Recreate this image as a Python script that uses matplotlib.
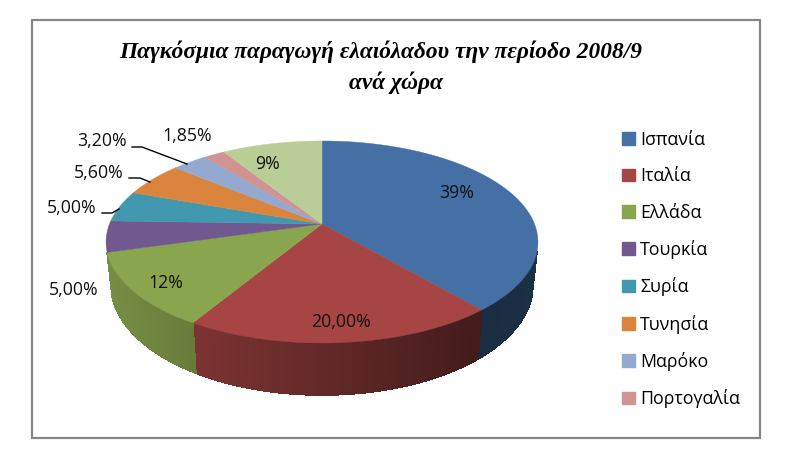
import matplotlib
matplotlib.use("Agg")
import matplotlib.pyplot as plt
import numpy as np
from matplotlib.collections import PolyCollection
from matplotlib.patches import Patch, Polygon, Rectangle

countries = ["Ισπανία", "Ιταλία", "Ελλάδα", "Τουρκία", "Συρία", "Τυνησία", "Μαρόκο", "Πορτογαλία", "Άλλες"]
shares = [39, 20, 12, 5, 5, 5.6, 3.2, 1.85, 9]
share_labels = ["39%", "20,00%", "12%", "5,00%", "5,00%", "5,60%", "3,20%", "1,85%", "9%"]
colors = ["#4470A6", "#A64543", "#89A54E", "#71588F", "#4198AF", "#DB843D", "#93A9CF", "#D19392", "#B9CD96"]

# pixel layout of the picture
W, H = 786, 461
CX, CY = 322, 224
RX, RY = 212.5, 97.8
PERSP = 0.178
BOTTOM_CY, BOTTOM_RY = 265, 106.8
BOTTOM_K = 0.977
FRONT_Y = 0.27  # side wall only shows below this point of the rim
label_xy = [(457, 193), (341, 322), (166, 283), (74, 290), (72, 208), (99, 173), (102, 141), (187, 136), (268, 164)]
leaders = [
    [(102, 213), (112, 213), (119, 209)],
    [(129, 178), (140, 178), (150, 182)],
    [(132, 147), (142, 147), (187, 164)],
]
FONT = "Open Sans"
TEXT_SIZE = 12.8


def rim(theta):
    # theta clockwise from the top, perspective squeeze for the far side
    x = np.sin(theta)
    y = -np.cos(theta)
    s = 1 / (1 - PERSP * y)
    return CX + RX * x * s, CY + RY * y * s


def bottom_rim(theta):
    x = np.sin(theta)
    y = -np.cos(theta)
    s = 1 / (1 - PERSP * y)
    return CX + RX * BOTTOM_K * x * s, BOTTOM_CY + BOTTOM_RY * y * s


def side_shade(x):
    return np.interp(x, [107, 193, 481, 538], [0.86, 0.75, 0.40, 0.42])


fig = plt.figure(figsize=(W / 100, H / 100), dpi=100)
ax = fig.add_axes([0, 0, 1, 1])
ax.set_xlim(0, W)
ax.set_ylim(H, 0)
ax.axis("off")

ax.add_patch(Rectangle((32, 20), 728, 418, fill=False, edgecolor="#868686", linewidth=1.6))

edges = np.cumsum([0] + shares) / sum(shares) * 2 * np.pi

# side wall first, then the top face over it
quads, quad_colors = [], []
for i, color in enumerate(colors):
    base = np.array(matplotlib.colors.to_rgb(color))
    thetas = np.arange(edges[i], edges[i + 1] + 0.008, 0.008)
    thetas[-1] = edges[i + 1]
    for a, b in zip(thetas[:-1], thetas[1:]):
        if -np.cos(a) < FRONT_Y or -np.cos(b) < FRONT_Y:
            continue
        xa, ya = rim(a)
        xb, yb = rim(b)
        xc, yc = bottom_rim(b)
        xd, yd = bottom_rim(a)
        quads.append([(xa, ya), (xb, yb), (xc, yc), (xd, yd)])
        quad_colors.append(base * side_shade((xa + xb) / 2))
ax.add_collection(PolyCollection(
    quads,
    facecolors=quad_colors,
    edgecolors=quad_colors,
    linewidths=0.6,
    antialiased=False,
))

for i, color in enumerate(colors):
    thetas = np.linspace(edges[i], edges[i + 1], 120)
    xs, ys = rim(thetas)
    pts = np.vstack([[CX, CY], np.column_stack([xs, ys])])
    ax.add_patch(Polygon(pts, closed=True, facecolor=color, edgecolor=color, linewidth=0.3))

for text, (x, y) in zip(share_labels, label_xy):
    ax.text(x, y, text, ha="center", va="center", fontsize=TEXT_SIZE, family=FONT, color="#111111")

for line in leaders:
    pts = np.array(line)
    ax.plot(pts[:, 0], pts[:, 1], color="black", linewidth=1.0)

ax.text(381, 51.5, "Παγκόσμια παραγωγή ελαιόλαδου την περίοδο 2008/9", ha="center", va="center",
        fontsize=16.8, family="Liberation Serif", weight="bold", style="italic")
ax.text(396, 83, "ανά χώρα", ha="center", va="center",
        fontsize=16.8, family="Liberation Serif", weight="bold", style="italic")

# the last slice has no legend entry in the original
handles = [Patch(facecolor=c, edgecolor=c) for c in colors[:8]]
leg = ax.legend(
    handles, countries[:8],
    loc="upper left", bbox_to_anchor=(622 / W, 1 - 131 / H), bbox_transform=fig.transFigure,
    frameon=False, borderaxespad=0, borderpad=0,
    handlelength=0.73, handleheight=0.73, handletextpad=0.28, labelspacing=1.03,
    prop={"family": FONT, "size": TEXT_SIZE},
)

fig.savefig("out.png", dpi=100)
